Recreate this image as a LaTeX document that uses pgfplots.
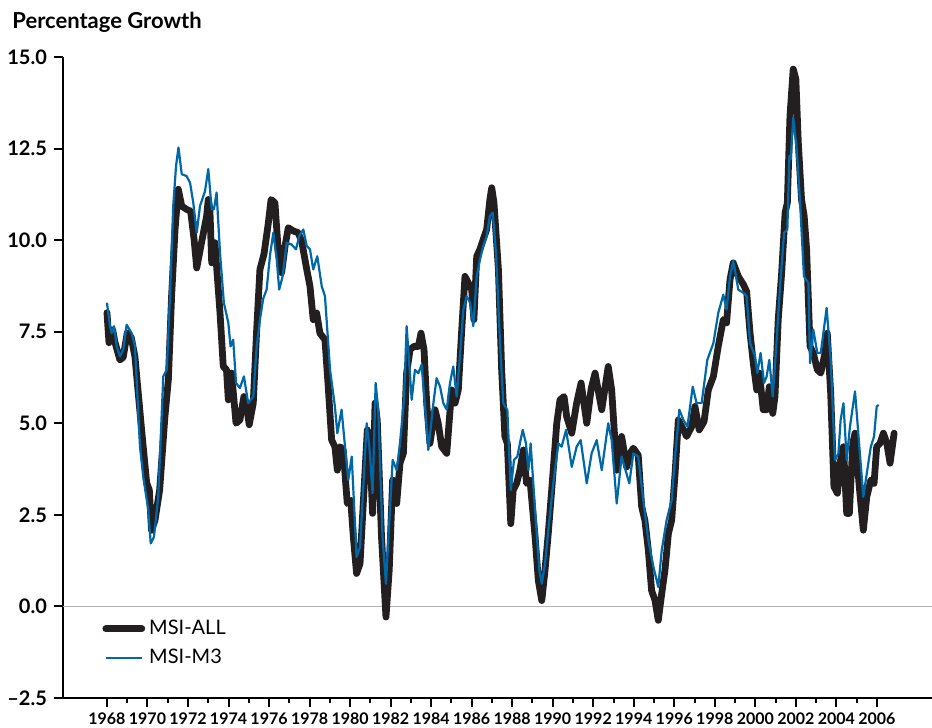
\documentclass[border=0pt]{standalone}
\usepackage{pgfplots}
\pgfplotsset{compat=1.18}
\usepackage{fontspec}
\setmainfont{Lato}

\definecolor{msiall}{HTML}{231F20}
\definecolor{msim3}{HTML}{0068A8}
\definecolor{zeroline}{HTML}{B4B4B4}

\pgfplotstableread{
year val
1968.00 8.02
1968.10 7.20
1968.28 7.55
1968.40 7.20
1968.64 6.73
1968.80 6.80
1969.00 7.47
1969.20 7.34
1969.38 6.82
1969.71 4.82
1969.96 3.37
1970.09 3.18
1970.20 2.08
1970.37 2.35
1970.60 3.18
1970.86 5.18
1971.03 6.19
1971.19 8.47
1971.36 10.29
1971.52 11.39
1971.69 10.93
1971.93 10.84
1972.13 10.79
1972.30 10.02
1972.43 9.24
1972.67 9.94
1972.92 10.66
1973.00 11.11
1973.08 10.84
1973.17 9.38
1973.33 9.93
1973.41 9.29
1973.58 8.01
1973.74 6.55
1973.90 6.46
1973.99 5.64
1974.15 6.37
1974.37 5.00
1974.56 5.09
1974.76 5.73
1974.90 5.46
1975.02 4.96
1975.22 5.55
1975.39 7.56
1975.55 9.20
1975.75 9.62
1975.96 10.45
1976.10 11.11
1976.29 11.02
1976.46 9.65
1976.62 9.11
1976.79 9.84
1976.95 10.34
1977.20 10.25
1977.44 10.20
1977.61 9.97
1977.86 9.20
1978.02 8.74
1978.18 7.83
1978.35 8.01
1978.51 7.46
1978.76 7.28
1978.92 6.00
1979.09 4.54
1979.25 4.36
1979.37 3.72
1979.50 4.36
1979.66 4.27
1979.86 2.81
1980.03 2.90
1980.16 1.90
1980.32 0.90
1980.49 1.17
1980.65 2.81
1980.85 4.82
1980.98 4.27
1981.11 2.54
1981.23 5.55
1981.34 5.09
1981.55 1.90
1981.77 -0.29
1981.93 0.99
1982.10 3.45
1982.30 2.81
1982.46 3.91
1982.63 4.18
1982.79 6.37
1982.96 7.01
1983.15 7.10
1983.37 7.10
1983.50 7.46
1983.65 7.00
1983.78 5.55
1983.94 4.45
1984.19 5.37
1984.35 5.00
1984.52 4.36
1984.77 4.18
1985.01 5.91
1985.18 5.55
1985.34 5.91
1985.51 7.56
1985.67 9.01
1985.84 8.83
1986.00 8.65
1986.11 7.83
1986.25 9.56
1986.41 9.75
1986.57 10.02
1986.74 10.29
1986.90 11.11
1986.99 11.43
1987.10 11.02
1987.32 9.20
1987.48 6.46
1987.64 4.64
1987.76 4.45
1987.93 2.26
1988.05 3.18
1988.22 3.36
1988.38 3.72
1988.55 4.27
1988.71 3.36
1988.88 3.45
1989.13 1.90
1989.29 0.71
1989.46 0.16
1989.62 0.99
1989.78 1.99
1989.95 3.18
1990.20 5.00
1990.36 5.64
1990.56 5.73
1990.69 5.18
1990.94 4.73
1991.18 5.55
1991.40 6.10
1991.68 5.00
1991.90 5.95
1992.09 6.37
1992.42 5.37
1992.74 6.55
1992.91 5.91
1993.16 3.72
1993.40 4.64
1993.65 3.81
1993.82 4.18
1993.98 4.32
1994.22 4.13
1994.39 2.72
1994.55 2.35
1994.72 1.53
1994.88 0.44
1995.05 0.16
1995.21 -0.38
1995.38 0.35
1995.54 0.99
1995.71 1.99
1995.87 2.35
1996.04 3.63
1996.20 5.09
1996.37 4.91
1996.61 4.64
1996.86 4.91
1997.02 5.46
1997.23 4.82
1997.47 5.05
1997.68 5.91
1997.93 6.28
1998.17 7.10
1998.42 7.83
1998.58 7.74
1998.75 8.92
1998.91 9.38
1999.16 9.01
1999.41 8.79
1999.57 8.60
1999.74 7.46
1999.90 6.64
2000.07 5.91
2000.20 6.37
2000.39 5.37
2000.56 5.37
2000.69 6.00
2000.86 5.27
2000.97 5.73
2001.13 7.83
2001.30 9.11
2001.47 10.75
2001.58 11.02
2001.71 13.39
2001.87 14.67
2002.00 14.40
2002.12 12.67
2002.28 11.11
2002.41 10.66
2002.53 9.75
2002.70 7.10
2002.86 6.92
2003.06 6.46
2003.23 6.37
2003.44 6.92
2003.55 7.46
2003.72 5.82
2003.88 3.27
2004.05 3.09
2004.21 4.00
2004.35 4.36
2004.51 2.54
2004.64 2.54
2004.81 4.45
2004.92 4.73
2005.13 3.27
2005.33 2.08
2005.50 2.99
2005.70 3.45
2005.86 3.36
2005.99 4.36
2006.15 4.45
2006.32 4.73
2006.49 4.45
2006.65 3.91
2006.85 4.73
}\msiall

\pgfplotstableread{
year val
1968.00 8.29
1968.15 7.65
1968.23 7.46
1968.35 7.65
1968.48 7.10
1968.64 6.83
1968.80 7.00
1968.97 7.69
1969.22 7.46
1969.38 7.10
1969.63 4.36
1969.79 3.54
1970.04 2.63
1970.16 1.72
1970.32 1.90
1970.53 2.99
1970.78 6.28
1970.95 6.46
1971.11 8.47
1971.27 10.93
1971.41 12.03
1971.53 12.53
1971.69 11.80
1971.93 11.75
1972.10 11.57
1972.26 11.02
1972.43 10.20
1972.59 10.93
1972.84 11.34
1973.00 11.94
1973.17 10.84
1973.28 10.84
1973.41 11.30
1973.58 9.65
1973.77 8.29
1973.99 7.74
1974.10 7.10
1974.23 7.28
1974.37 6.10
1974.56 5.96
1974.76 6.28
1974.97 5.55
1975.22 5.73
1975.39 7.10
1975.55 7.83
1975.71 8.40
1975.88 8.65
1976.05 9.60
1976.21 10.20
1976.38 9.47
1976.50 8.65
1976.67 9.01
1976.87 9.93
1977.11 9.88
1977.33 9.75
1977.49 10.11
1977.69 10.29
1977.86 9.84
1978.02 9.75
1978.18 9.20
1978.38 9.56
1978.60 8.74
1978.76 8.47
1979.01 6.46
1979.25 5.46
1979.37 4.73
1979.58 5.37
1979.75 4.36
1979.91 3.45
1980.08 4.09
1980.32 1.35
1980.49 1.62
1980.65 3.27
1980.82 5.00
1980.95 4.36
1981.11 3.09
1981.26 6.10
1981.39 5.37
1981.60 1.90
1981.77 0.62
1981.93 2.26
1982.10 4.00
1982.30 3.72
1982.46 4.45
1982.66 5.64
1982.79 7.65
1982.87 7.01
1983.04 5.64
1983.20 6.46
1983.37 6.37
1983.53 6.60
1983.70 5.45
1983.86 4.27
1984.11 5.55
1984.27 6.23
1984.44 6.00
1984.60 5.55
1984.77 5.37
1984.93 6.10
1985.09 6.55
1985.26 5.73
1985.42 6.83
1985.59 8.10
1985.75 8.47
1985.92 8.29
1986.08 7.65
1986.25 9.01
1986.41 9.47
1986.57 9.84
1986.74 10.11
1986.90 10.66
1987.04 10.75
1987.20 9.65
1987.40 7.19
1987.56 5.55
1987.76 5.37
1987.93 3.18
1988.09 4.00
1988.25 4.09
1988.38 4.45
1988.52 4.82
1988.68 4.45
1988.80 3.72
1988.91 4.45
1989.13 2.63
1989.34 0.99
1989.46 0.62
1989.62 1.17
1989.78 2.08
1990.03 3.36
1990.28 4.45
1990.44 4.36
1990.66 4.82
1990.94 3.81
1991.18 4.36
1991.38 4.54
1991.68 3.36
1991.92 4.18
1992.17 4.54
1992.42 3.72
1992.74 5.00
1992.91 4.54
1993.16 2.81
1993.40 4.09
1993.78 3.36
1993.98 4.18
1994.22 4.09
1994.47 2.90
1994.72 1.81
1994.97 1.08
1995.21 0.53
1995.38 1.53
1995.62 2.35
1995.87 2.90
1996.04 4.09
1996.25 5.37
1996.45 5.09
1996.65 4.91
1996.91 6.00
1997.10 5.55
1997.35 5.55
1997.63 6.73
1997.93 7.19
1998.17 8.01
1998.42 8.51
1998.58 8.10
1998.75 9.01
1998.91 9.43
1999.16 8.65
1999.41 8.56
1999.57 8.47
1999.74 7.19
1999.98 6.83
2000.10 6.37
2000.26 6.92
2000.43 6.10
2000.56 6.28
2000.69 6.73
2000.86 5.73
2001.02 7.01
2001.22 8.74
2001.42 10.20
2001.58 10.29
2001.68 12.30
2001.75 12.21
2001.87 13.35
2002.04 12.48
2002.20 11.11
2002.40 9.01
2002.62 8.83
2002.70 6.64
2002.86 7.56
2003.06 6.92
2003.23 6.92
2003.52 8.15
2003.72 6.73
2003.93 4.00
2004.10 4.18
2004.21 5.09
2004.35 5.55
2004.51 4.00
2004.67 4.91
2004.92 5.87
2005.16 4.18
2005.33 2.99
2005.50 3.63
2005.70 4.36
2005.86 4.64
2005.99 5.46
2006.09 5.50
}\msimthree

\begin{document}
\begin{tikzpicture}
\begin{axis}[
  scale only axis,
  width=434.5pt, height=320.5pt,
  xmin=1965.83, xmax=2008.72,
  ymin=-2.5, ymax=15,
  axis x line*=bottom, axis y line*=left,
  axis line style={line width=1.2pt},
  tick align=outside,
  tick style={line width=1pt, black},
  major tick length=4.5pt, minor tick length=2.5pt,
  xtick={1968,1970,...,2006},
  minor xtick={1969,1971,...,2005},
  /pgf/number format/1000 sep={},
  /pgf/number format/assume math mode=true,
  xticklabel style={font=\bfseries\fontsize{8}{9}\selectfont, yshift=0.5pt},
  ytick={-2.5,0,2.5,5,7.5,10,12.5,15},
  yticklabels={--2.5,0.0,2.5,5.0,7.5,10.0,12.5,15.0},
  yticklabel style={font=\bfseries\fontsize{10}{12}\selectfont},
  legend style={at={(0.038,0.085)}, anchor=west, draw=none, fill=none,
    font=\fontsize{10}{12}\selectfont, row sep=2pt},
  legend cell align=left,
  legend image code/.code={\draw[#1] (0pt,0pt) -- (18pt,0pt);},
]
\draw[zeroline, line width=0.8pt] (axis cs:1965.83,0) -- (axis cs:2008.72,0);
\addplot[msiall, line width=3.4pt, line join=round, line cap=round] table[x=year, y=val] {\msiall};
\addlegendentry{MSI-ALL}
\addplot[msim3, line width=1.1pt, line join=round] table[x=year, y=val] {\msimthree};
\addlegendentry{MSI-M3}
\coordinate (bl) at (rel axis cs:0,0);
\coordinate (tr) at (rel axis cs:1,1);
\end{axis}
\node[anchor=base west, font=\bfseries\fontsize{11}{13}\selectfont, inner sep=0pt]
  at ([xshift=-25.5pt, yshift=14pt]bl |- tr) {Percentage Growth};
\pgfresetboundingbox
\path[use as bounding box] ([xshift=-31.5pt, yshift=-15pt]bl) rectangle ([yshift=28.5pt]tr);
\end{tikzpicture}
\end{document}
